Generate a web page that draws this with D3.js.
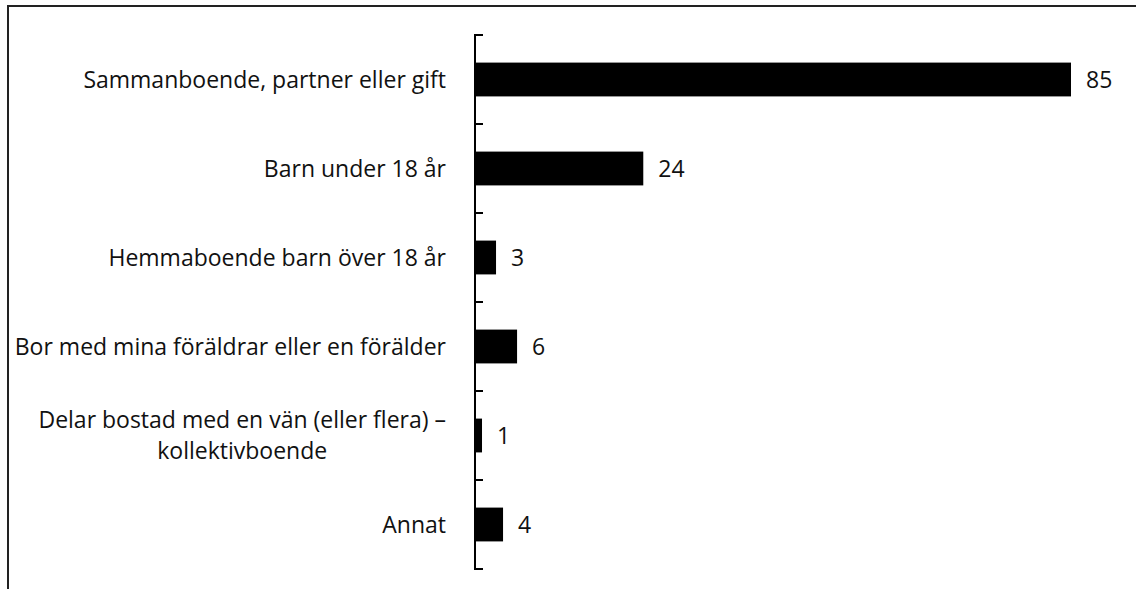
<!DOCTYPE html>
<html>
<head>
<meta charset="utf-8">
<script src="https://cdn.jsdelivr.net/npm/d3@7"></script>
<style>
  html, body { margin: 0; padding: 0; background: #fff; }
  svg { display: block; }
  text { font-family: "Open Sans", "Noto Sans", sans-serif; fill: #111; font-variant-ligatures: none; }
</style>
</head>
<body>
<svg id="chart" width="1136" height="589"></svg>
<script>
// Household composition, share of respondents (%)
const categories = [
  ["Sammanboende, partner eller gift"],
  ["Barn under 18 år"],
  ["Hemmaboende barn över 18 år"],
  ["Bor med mina föräldrar eller en förälder"],
  ["Delar bostad med en vän (eller flera) –", "kollektivboende"],
  ["Annat"]
];
const values = [85, 24, 3, 6, 1, 4];

const svg = d3.select("#chart");
const W = 1136, H = 589;
const fontSize = 23;

// outer frame (only top and left edges fall inside the page)
svg.append("rect")
  .attr("x", 8).attr("y", 6)
  .attr("width", W + 20).attr("height", H + 20)
  .attr("fill", "none").attr("stroke", "#222").attr("stroke-width", 2);

const axisX = 475, plotTop = 35, plotBottom = 569;

const y = d3.scaleBand()
  .domain(d3.range(categories.length))
  .range([plotTop, plotBottom])
  .paddingInner(0.62).paddingOuter(0.31);

const x = d3.scaleLinear().domain([0, 85]).range([axisX, 1071]);

// bars
svg.append("g").selectAll("rect")
  .data(values)
  .join("rect")
  .attr("x", x(0))
  .attr("y", (d, i) => y(i))
  .attr("width", d => x(d) - x(0))
  .attr("height", y.bandwidth())
  .attr("fill", "#000");

// value labels
svg.append("g").selectAll("text")
  .data(values)
  .join("text")
  .attr("x", d => x(d) + 15)
  .attr("y", (d, i) => y(i) + y.bandwidth() / 2)
  .attr("dy", "0.36em")
  .attr("font-size", fontSize)
  .text(d => d);

// category axis with tick marks at band boundaries pointing inward
const step = (plotBottom - plotTop) / categories.length;
const boundaries = d3.range(categories.length + 1).map(i => plotTop + i * step);
const axis = svg.append("g");
axis.append("line")
  .attr("x1", axisX).attr("x2", axisX)
  .attr("y1", plotTop).attr("y2", plotBottom)
  .attr("stroke", "#000").attr("stroke-width", 2);
axis.selectAll("line.tick")
  .data(boundaries)
  .join("line")
  .attr("class", "tick")
  .attr("x1", axisX - 1).attr("x2", axisX + 8)
  .attr("y1", d => d).attr("y2", d => d)
  .attr("stroke", "#000").attr("stroke-width", 2);

// category labels: block right-aligned, wrapped lines centred within the block
const labelRight = 446, lineH = 31;
categories.forEach((lines, i) => {
  const g = svg.append("g");
  const cy = y(i) + y.bandwidth() / 2;
  const texts = lines.map((ln, k) => g.append("text")
    .attr("font-size", fontSize)
    .attr("y", cy + (k - (lines.length - 1) / 2) * lineH)
    .attr("dy", "0.36em")
    .text(ln));
  const widths = texts.map(t => t.node().getComputedTextLength());
  const maxW = d3.max(widths);
  texts.forEach(t => t.attr("text-anchor", "middle").attr("x", labelRight - maxW / 2));
});
</script>
</body>
</html>
